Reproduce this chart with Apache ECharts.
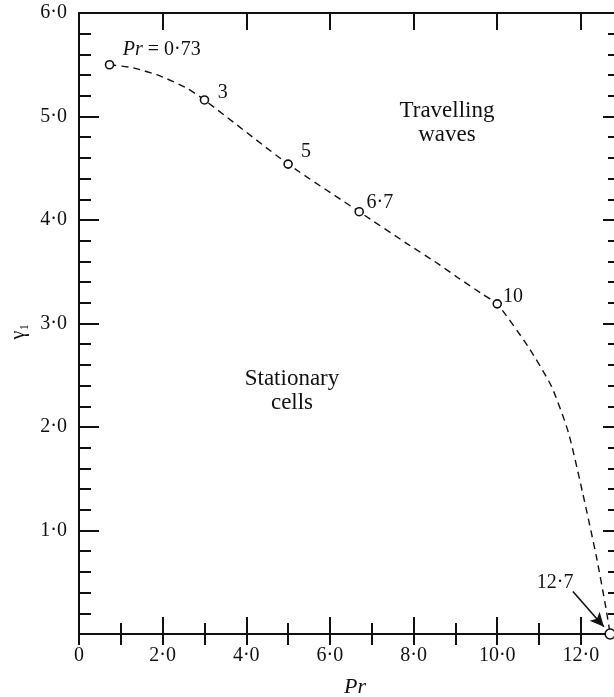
<!DOCTYPE html>
<html>
<head>
<meta charset="utf-8">
<style>
  html, body { margin: 0; padding: 0; background: #fff; }
  #chart { width: 614px; height: 697px; }
</style>
<script src="https://cdn.jsdelivr.net/npm/echarts@6/dist/echarts.min.js"></script>
</head>
<body>
<div id="chart"></div>
<script>
// Marked Prandtl numbers on the stability boundary and their gamma_1 values
const markedPr = [0.73, 3, 5, 6.7, 10, 12.7];
const markedGamma = [5.5, 5.16, 4.54, 4.08, 3.19, 0];
const markedLabels = ['{i|Pr} = 0·73', '3', '5', '6·7', '10', '12·7'];

// Dashed boundary curve between the regimes
const curvePr = [0.73, 1.3, 1.95, 2.55, 3, 5, 6.7, 7.85, 8.5, 9.07, 9.66, 10, 10.75, 11.3, 11.7, 12.05, 12.37, 12.6, 12.7];
const curveGamma = [5.5, 5.47, 5.39, 5.28, 5.16, 4.54, 4.08, 3.77, 3.6, 3.44, 3.28, 3.19, 2.77, 2.39, 1.95, 1.35, 0.75, 0.25, 0];

// Axis tick labels
const xTickLabels = ['0', '2·0', '4·0', '6·0', '8·0', '10·0', '12·0'];
const yTickLabels = ['', '1·0', '2·0', '3·0', '4·0', '5·0', '6·0'];

// Arrow pointing at the Pr = 12.7 point
const arrowFrom = [11.81, 0.41];
const arrowTo = [12.55, 0.07];

const FONT = '"Liberation Serif", "DejaVu Serif", serif';
const BLACK = '#111';

// Per-point label placement (pixel offsets)
const labelOffsets = [[3.5, -15], [3.5, -7], [3, -12], [-2.5, -9], [-4, -7], [-55, -51]];

const chart = echarts.init(document.getElementById('chart'), null, { renderer: 'canvas' });

const curveData = curvePr.map((p, i) => [p, curveGamma[i]]);
const lastIdx = markedPr.length - 1;
const markedData = markedPr.map((p, i) => ({
  value: [p, markedGamma[i]],
  symbolSize: i === lastIdx ? 10 : 8,
  label: {
    show: true,
    formatter: markedLabels[i],
    position: i === lastIdx ? 'inside' : 'right',
    distance: 5,
    offset: labelOffsets[i]
  }
}));

const xMax = 12.84;
const baseX = {
  type: 'value', min: 0, max: xMax, gridIndex: 0,
  splitLine: { show: false },
  axisLine: { show: true, onZero: false, lineStyle: { color: BLACK, width: 2 } }
};
const baseY = {
  type: 'value', min: 0, max: 6, interval: 1, gridIndex: 0,
  splitLine: { show: false },
  axisLine: { show: true, onZero: false, lineStyle: { color: BLACK, width: 2 } }
};

chart.setOption({
  animation: false,
  backgroundColor: '#fff',
  grid: { left: 79, top: 13, width: 537, height: 621, containLabel: false, outerBoundsMode: 'none' },
  xAxis: [
    Object.assign({}, baseX, {
      position: 'bottom', interval: 2,
      axisTick: { show: true, inside: true, length: 17, lineStyle: { color: BLACK, width: 2 } },
      axisLabel: {
        show: true, margin: 12, color: BLACK, fontFamily: FONT, fontSize: 20,
        formatter: v => {
          const k = Math.round(v / 2);
          return Math.abs(v - k * 2) < 1e-6 && k < xTickLabels.length ? xTickLabels[k] : '';
        }
      },
      name: 'Pr', nameLocation: 'middle', nameGap: 42,
      nameTextStyle: { fontFamily: FONT, fontSize: 22, fontStyle: 'italic', color: BLACK, padding: [0, 0, 0, 15] }
    }),
    Object.assign({}, baseX, {
      position: 'bottom', interval: 1,
      axisLine: { show: false },
      axisTick: { show: true, inside: true, length: 11, lineStyle: { color: BLACK, width: 2 } },
      axisLabel: { show: false }
    }),
    Object.assign({}, baseX, {
      position: 'top', interval: 2,
      axisTick: { show: true, inside: true, length: 17, lineStyle: { color: BLACK, width: 2 } },
      axisLabel: { show: false }
    }),
    Object.assign({}, baseX, {
      position: 'top', interval: 1,
      axisLine: { show: false },
      axisTick: { show: true, inside: true, length: 11, lineStyle: { color: BLACK, width: 2 } },
      axisLabel: { show: false }
    })
  ],
  yAxis: [
    Object.assign({}, baseY, {
      position: 'left',
      axisTick: { show: true, inside: true, length: 20, lineStyle: { color: BLACK, width: 2 } },
      minorTick: { show: true, splitNumber: 5, length: 12, lineStyle: { color: BLACK, width: 2 } },
      axisLabel: {
        show: true, margin: 12, color: BLACK, fontFamily: FONT, fontSize: 20,
        formatter: v => yTickLabels[Math.round(v)] || ''
      },
      name: 'γ₁', nameLocation: 'middle', nameGap: 50, nameRotate: 90,
      nameTextStyle: { fontFamily: FONT, fontSize: 20, color: BLACK, padding: [0, 16, 0, 0] }
    }),
    Object.assign({}, baseY, {
      position: 'right',
      axisTick: { show: true, inside: true, length: 13, lineStyle: { color: BLACK, width: 2 } },
      minorTick: { show: true, splitNumber: 5, length: 8, lineStyle: { color: BLACK, width: 2 } },
      axisLabel: { show: false }
    })
  ],
  series: [
    {
      name: 'boundary', type: 'line', xAxisIndex: 0, yAxisIndex: 0,
      data: curveData, smooth: 0.2, showSymbol: false, symbol: 'none',
      lineStyle: { color: BLACK, width: 1.4, type: [7, 5] },
      z: 2,
      markLine: {
        silent: true, symbol: ['none', 'arrow'], symbolSize: [10, 14],
        label: { show: false },
        lineStyle: { color: BLACK, width: 1.6, type: 'solid' },
        data: [[{ coord: arrowFrom }, { coord: arrowTo }]]
      }
    },
    {
      name: 'marked', type: 'scatter', xAxisIndex: 0, yAxisIndex: 0,
      data: markedData, symbol: 'circle',
      itemStyle: { color: '#fff', borderColor: BLACK, borderWidth: 1.6, opacity: 1 },
      label: {
        color: BLACK, fontFamily: FONT, fontSize: 20,
        rich: { i: { fontFamily: FONT, fontSize: 20, fontStyle: 'italic', color: BLACK } }
      },
      z: 3
    }
  ],
  graphic: [
    {
      type: 'text', x: 447, y: 123, z: 10,
      style: { text: 'Travelling\nwaves', fill: BLACK, font: '23px ' + FONT, align: 'center', verticalAlign: 'middle', lineHeight: 24 }
    },
    {
      type: 'text', x: 292, y: 391, z: 10,
      style: { text: 'Stationary\ncells', fill: BLACK, font: '23px ' + FONT, align: 'center', verticalAlign: 'middle', lineHeight: 24 }
    }
  ]
});
</script>
</body>
</html>
